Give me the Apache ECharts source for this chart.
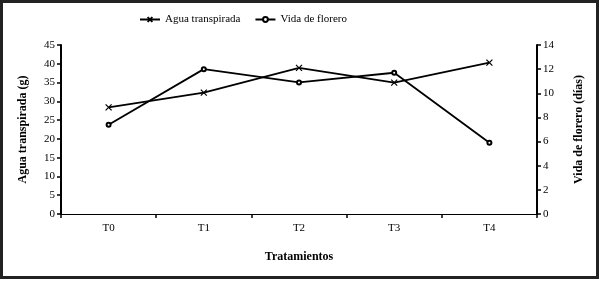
<!DOCTYPE html>
<html>
<head>
<meta charset="utf-8">
<script src="https://cdn.jsdelivr.net/npm/echarts@6/dist/echarts.min.js"></script>
<style>
  html, body { margin: 0; padding: 0; background: #fff; }
  #chart { width: 600px; height: 281px; }
</style>
</head>
<body>
<div id="chart"></div>
<script>
// categories and values
const tratamientos = ['T0', 'T1', 'T2', 'T3', 'T4'];
const aguaTranspirada = [28.4, 32.3, 38.9, 35.0, 40.3];   // g, left axis
const vidaFlorero = [7.4, 12.0, 10.9, 11.7, 5.9];        // días, right axis

const serif = 'Liberation Serif';
const chart = echarts.init(document.getElementById('chart'));

chart.setOption({
  animation: false,
  backgroundColor: '#fff',
  textStyle: { fontFamily: serif, color: '#000' },
  graphic: [{
    type: 'rect',
    shape: { x: 1.5, y: 1.5, width: 596, height: 276 },
    style: { fill: 'none', stroke: '#222', lineWidth: 3 }
  }],
  legend: {
    top: 9,
    left: 134,
    itemGap: 14,
    itemWidth: 20,
    itemHeight: 6,
    textStyle: { fontFamily: serif, fontSize: 11, color: '#000' },
    data: ['Agua transpirada', 'Vida de florero']
  },
  grid: { left: 61, right: 63, top: 45, bottom: 67 },
  xAxis: {
    type: 'category',
    data: tratamientos,
    boundaryGap: true,
    name: 'Tratamientos',
    nameLocation: 'middle',
    nameGap: 37,
    nameTextStyle: { fontFamily: serif, fontSize: 12, fontWeight: 'bold', color: '#000' },
    axisLine: { lineStyle: { color: '#000', width: 1 } },
    axisTick: { show: true, length: 4, lineStyle: { color: '#000', width: 1.5 } },
    axisLabel: { fontFamily: serif, fontSize: 11, color: '#000', margin: 9 }
  },
  yAxis: [{
    type: 'value',
    min: 0, max: 45, interval: 5,
    name: 'Agua transpirada (g)',
    nameLocation: 'middle',
    nameGap: 32,
    nameTextStyle: { fontFamily: serif, fontSize: 12, fontWeight: 'bold', color: '#000' },
    splitLine: { show: false },
    axisLine: { show: true, lineStyle: { color: '#000', width: 2 } },
    axisTick: { show: true, length: 4, lineStyle: { color: '#000', width: 1.5 } },
    axisLabel: { fontFamily: serif, fontSize: 11, color: '#000', margin: 6 }
  }, {
    type: 'value',
    min: 0, max: 14, interval: 2,
    name: 'Vida de florero (días)',
    nameLocation: 'middle',
    nameGap: 36,
    nameRotate: 90,
    nameTextStyle: { fontFamily: serif, fontSize: 12, fontWeight: 'bold', color: '#000' },
    splitLine: { show: false },
    axisLine: { show: true, lineStyle: { color: '#000', width: 2 } },
    axisTick: { show: true, length: 4, lineStyle: { color: '#000', width: 1.5 } },
    axisLabel: { fontFamily: serif, fontSize: 11, color: '#000', margin: 6 }
  }],
  series: [{
    name: 'Agua transpirada',
    type: 'line',
    yAxisIndex: 0,
    data: aguaTranspirada,
    symbol: 'path://M0,0L10,10M10,0L0,10',
    symbolSize: 6,
    itemStyle: { color: '#000', borderColor: '#000', borderWidth: 1.2 },
    lineStyle: { color: '#000', width: 1.8 }
  }, {
    name: 'Vida de florero',
    type: 'line',
    yAxisIndex: 1,
    data: vidaFlorero,
    symbol: 'emptyCircle',
    symbolSize: 4,
    itemStyle: { color: '#000', borderColor: '#000', borderWidth: 1.2 },
    lineStyle: { color: '#000', width: 1.8 }
  }]
});
</script>
</body>
</html>
